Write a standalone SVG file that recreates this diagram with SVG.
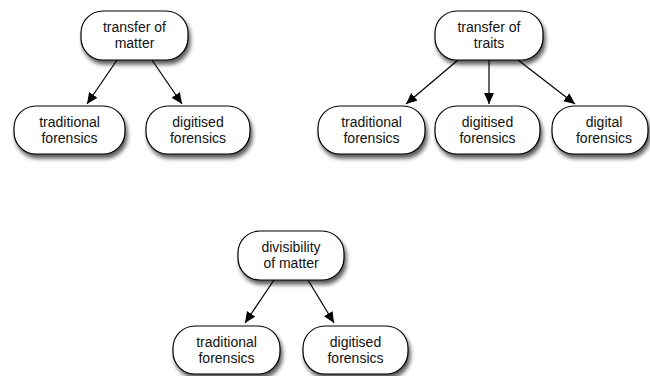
<svg xmlns="http://www.w3.org/2000/svg" width="650" height="376" viewBox="0 0 650 376">
  <defs>
    <filter id="shadow" x="-20%" y="-20%" width="140%" height="160%">
      <feGaussianBlur in="SourceAlpha" stdDeviation="2.2"/>
      <feOffset dx="2" dy="4" result="b"/>
      <feComponentTransfer><feFuncA type="linear" slope="0.65"/></feComponentTransfer>
      <feMerge><feMergeNode/><feMergeNode in="SourceGraphic"/></feMerge>
    </filter>
    <marker id="arrow" viewBox="0 0 10 10" refX="10" refY="5" markerWidth="11" markerHeight="11" markerUnits="userSpaceOnUse" orient="auto">
      <path d="M0,0.5 L10,5 L0,9.5 z" fill="#000"/>
    </marker>
  </defs>
  <style>
    .node rect { fill: #fff; stroke: #000; stroke-width: 1.2; filter: url(#shadow); }
    .node text { font-family: "Liberation Sans", Arial, sans-serif; font-size: 14px; fill: #111; text-anchor: middle; }
    .edges line { stroke: #000; stroke-width: 1.2; marker-end: url(#arrow); }
  </style>
  <rect width="650" height="376" fill="#fff"/>

  <g class="edges">
    <line x1="117" y1="60" x2="87" y2="104"/>
    <line x1="152" y1="60" x2="182" y2="104"/>
    <line x1="458" y1="60" x2="406" y2="104"/>
    <line x1="489" y1="60" x2="489" y2="104"/>
    <line x1="518" y1="60" x2="575" y2="104"/>
    <line x1="274" y1="280" x2="245" y2="323"/>
    <line x1="308" y1="280" x2="334" y2="323"/>
  </g>

  <g id="transfer-of-matter" class="node">
    <rect x="81" y="11" width="107" height="49" rx="22"/>
    <text x="134.5" y="32">transfer of</text>
    <text x="134.5" y="48">matter</text>
  </g>
  <g id="tm-traditional" class="node">
    <rect x="14" y="106" width="111" height="48" rx="22"/>
    <text x="69.5" y="127">traditional</text>
    <text x="69.5" y="143">forensics</text>
  </g>
  <g id="tm-digitised" class="node">
    <rect x="146" y="106" width="104" height="48" rx="22"/>
    <text x="198" y="127">digitised</text>
    <text x="198" y="143">forensics</text>
  </g>

  <g id="transfer-of-traits" class="node">
    <rect x="435" y="11" width="108" height="49" rx="22"/>
    <text x="489" y="32">transfer of</text>
    <text x="489" y="48">traits</text>
  </g>
  <g id="tt-traditional" class="node">
    <rect x="318" y="106" width="107" height="48" rx="22"/>
    <text x="371.5" y="127">traditional</text>
    <text x="371.5" y="143">forensics</text>
  </g>
  <g id="tt-digitised" class="node">
    <rect x="435" y="106" width="105" height="48" rx="22"/>
    <text x="487.5" y="127">digitised</text>
    <text x="487.5" y="143">forensics</text>
  </g>
  <g id="tt-digital" class="node">
    <rect x="552" y="106" width="96" height="48" rx="22"/>
    <text x="604" y="127">digital</text>
    <text x="604" y="143">forensics</text>
  </g>

  <g id="divisibility-of-matter" class="node">
    <rect x="238" y="231" width="106" height="49" rx="22"/>
    <text x="291" y="252">divisibility</text>
    <text x="291" y="268">of matter</text>
  </g>
  <g id="dm-traditional" class="node">
    <rect x="173" y="326" width="107" height="48" rx="22"/>
    <text x="226.5" y="347">traditional</text>
    <text x="226.5" y="363">forensics</text>
  </g>
  <g id="dm-digitised" class="node">
    <rect x="303" y="326" width="105" height="48" rx="22"/>
    <text x="355.5" y="347">digitised</text>
    <text x="355.5" y="363">forensics</text>
  </g>
</svg>
